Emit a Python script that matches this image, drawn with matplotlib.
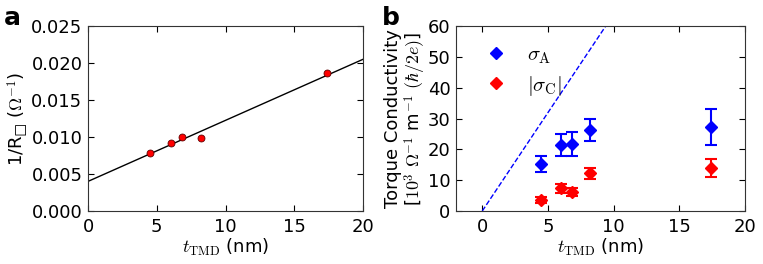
import matplotlib
matplotlib.use("Agg")
import matplotlib.pyplot as plt
from matplotlib.lines import Line2D

# ==========================================
# Data
# ==========================================

t_tmd = [4.5, 6.0, 6.8, 8.2, 17.4]
inv_r = [0.0078, 0.0092, 0.0100, 0.0098, 0.0186]

fit_x = [0, 20]
fit_y = [0.0040, 0.0205]

sigma_a = [15.2, 21.5, 21.8, 26.3, 27.3]
sigma_a_err = [2.5, 3.5, 3.8, 3.5, 5.8]
sigma_c = [3.5, 7.3, 6.2, 12.2, 14.0]
sigma_c_err = [1.0, 1.3, 1.2, 1.7, 3.0]

guide_x = [0, 9.4]
guide_y = [0, 60]

# ==========================================
# Style
# ==========================================

plt.rcParams["font.family"] = "DejaVu Sans"
plt.rcParams["mathtext.fontset"] = "cm"
plt.rcParams["font.size"] = 13
plt.rcParams["xtick.direction"] = "in"
plt.rcParams["ytick.direction"] = "in"
plt.rcParams["xtick.top"] = True
plt.rcParams["ytick.right"] = True
plt.rcParams["xtick.major.size"] = 4
plt.rcParams["ytick.major.size"] = 4
plt.rcParams["xtick.major.pad"] = 5
plt.rcParams["ytick.major.pad"] = 4
plt.rcParams["axes.linewidth"] = 0.8
plt.rcParams["axes.edgecolor"] = "#333333"

fig = plt.figure(figsize=(7.63, 2.64), dpi=100)

# ==========================================
# Panel a
# ==========================================

ax1 = fig.add_axes([88/763, 1 - 211/264, 275/763, 185/264])
ax1.plot(fit_x, fit_y, color="black", lw=1)
ax1.plot(t_tmd, inv_r, "o", color="red", mec="#600000", ms=5, mew=0.6)
ax1.set_xlim(0, 20)
ax1.set_ylim(0, 0.025)
ax1.set_xticks([0, 5, 10, 15, 20])
ax1.set_yticks([0, 0.005, 0.01, 0.015, 0.02, 0.025])
ax1.set_yticklabels(["0.000", "0.005", "0.010", "0.015", "0.020", "0.025"])
ax1.set_xlabel(r"$t_{\rm TMD}$ (nm)", labelpad=1)
ax1.set_ylabel("1/R$_{\u25a1}$ " + r"($\Omega^{-1}$)", labelpad=0)
fig.text(0.005, 0.905, "a", fontsize=18, fontweight="bold")

# ==========================================
# Panel b
# ==========================================

ax2 = fig.add_axes([456/763, 1 - 211/264, 289/763, 185/264])
ax2.plot(guide_x, guide_y, "--", color="blue", lw=1)
ax2.errorbar(t_tmd, sigma_a, yerr=sigma_a_err, fmt="D", color="blue",
             mec="blue", ms=6, elinewidth=1.5, capsize=4, capthick=1.5)
ax2.errorbar(t_tmd, sigma_c, yerr=sigma_c_err, fmt="D", color="red",
             mec="red", ms=6, elinewidth=1.5, capsize=4, capthick=1.5)
ax2.set_xlim(-2, 20)
ax2.set_ylim(0, 60)
ax2.set_xticks([0, 5, 10, 15, 20])
ax2.set_yticks([0, 10, 20, 30, 40, 50, 60])
ax2.set_xlabel(r"$t_{\rm TMD}$ (nm)", labelpad=1)
ax2.set_ylabel("Torque Conductivity\n"
               r"[$10^3$ $\Omega^{-1}$ m$^{-1}$ $(\hbar/2e)$]",
               linespacing=1.0, labelpad=0)

handles = [
    Line2D([], [], marker="D", color="blue", ls="none", ms=6),
    Line2D([], [], marker="D", color="red", ls="none", ms=6),
]
ax2.legend(handles, [r"$\sigma_{\rm A}$", r"$|\sigma_{\rm C}|$"],
           loc="upper left", frameon=False, numpoints=1,
           handletextpad=0.5, fontsize=15, borderaxespad=0.5,
           labelspacing=0.35)
fig.text(0.5, 0.905, "b", fontsize=18, fontweight="bold")

plt.savefig("out.png", dpi=100)
